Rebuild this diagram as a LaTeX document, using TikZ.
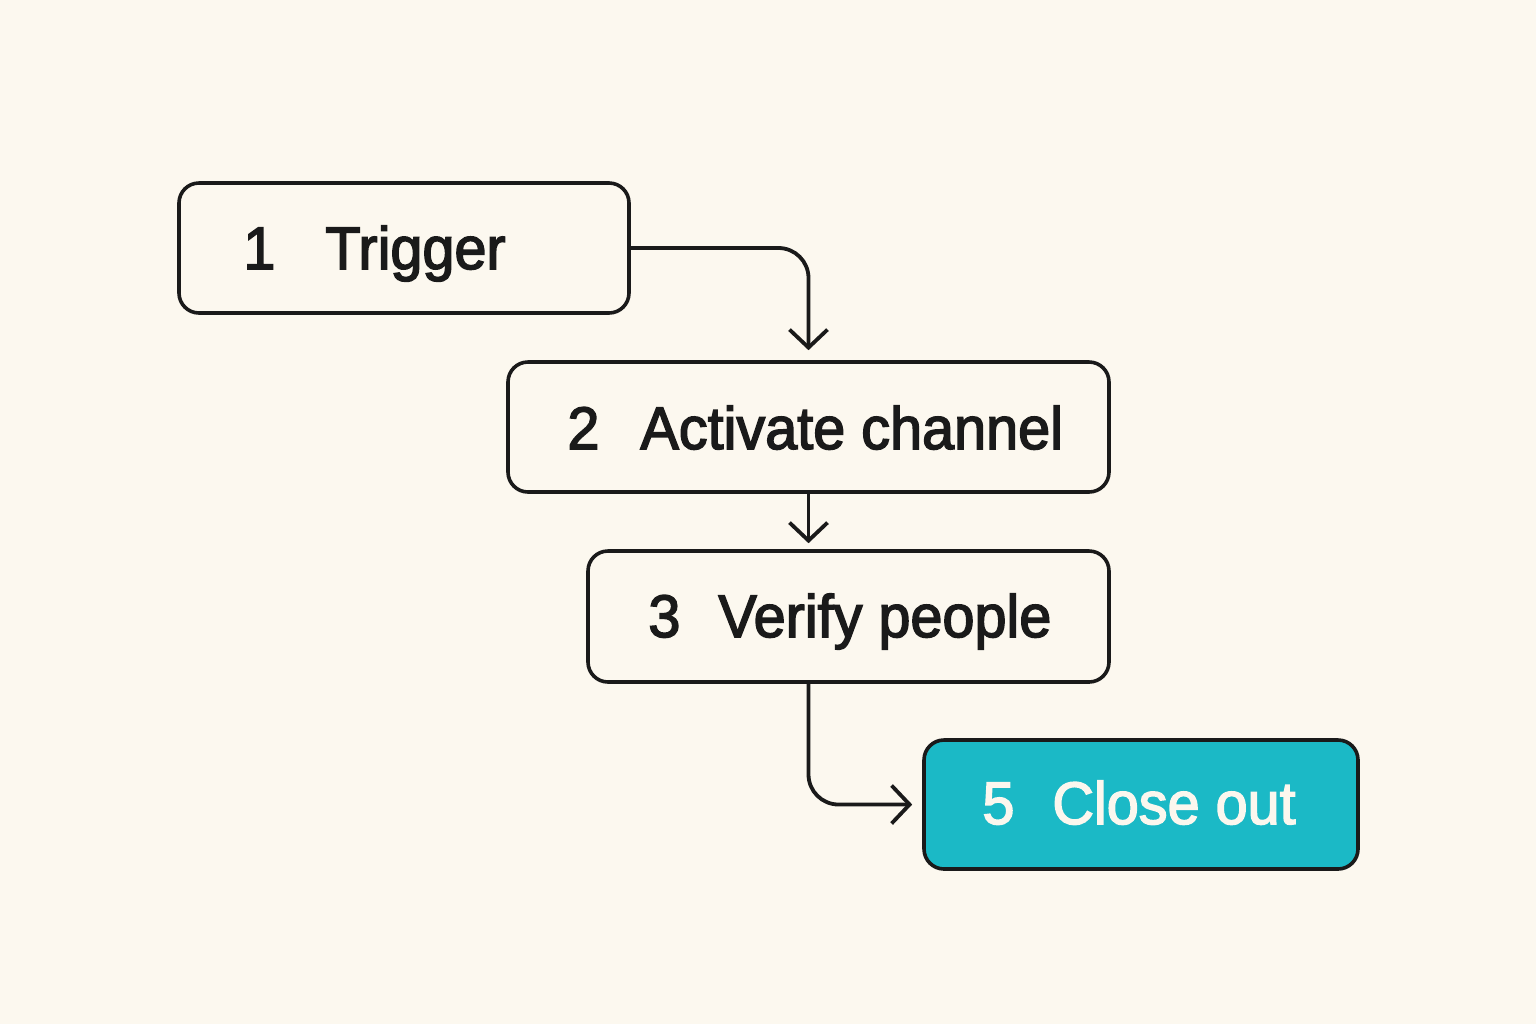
\documentclass[tikz,border=0pt]{standalone}
\usepackage{fontspec}
\setmainfont[FakeBold=2.5,FakeStretch=0.96]{Liberation Sans}
\usetikzlibrary{arrows.meta,calc}
\definecolor{bg}{HTML}{FCF8EF}
\definecolor{ink}{HTML}{1A1A1A}
\definecolor{teal}{HTML}{1BB9C6}
\definecolor{light}{HTML}{FBF7EE}
\begin{document}
\begin{tikzpicture}[x=0.5pt,y=-0.5pt,
  box/.style={draw=ink,line width=1.8pt,rounded corners=10pt,inner sep=0pt},
  lbl/.style={anchor=base west,inner sep=0pt,text=ink,font=\fontsize{30}{36}\selectfont},
  conn/.style={draw=ink,line width=1.9pt,rounded corners=15pt,-{Straight Barb[length=9pt,width=19pt,line width=1.9pt]}}]
\fill[bg] (0,0) rectangle (1536,1024);
\node[box,minimum width=225pt,minimum height=65pt] (b1) at (404,248) {};
\node[box,minimum width=300.5pt,minimum height=65pt] (b2) at (808.5,427) {};
\node[box,minimum width=260.5pt,minimum height=65.5pt] (b3) at (848.5,616.5) {};
\node[box,fill=teal,minimum width=217pt,minimum height=64.5pt] (b5) at (1141,804.5) {};
\node[lbl] (n1) at (243,269) {1};
\node[lbl] (t1) at (325,269) {Trigger};
\node[lbl] (n2) at (567,449) {2};
\node[lbl] (t2) at (640,449) {Activate channel};
\node[lbl] (n3) at (648,637) {3};
\node[lbl] (t3) at (718,637) {Verify people};
\node[lbl,text=light] (n5) at (982,824) {5};
\node[lbl,text=light] (t5) at (1052,824) {Close out};
\coordinate (e1) at ($(b2.north)+(0,-10)$);
\draw[conn] (b1.east) -| (e1);
\draw[conn,shorten >=3pt] (b2.south) -- (b3.north -| b2.south);
\draw[conn,shorten >=5pt] (b3.south -| b2.south) |- (b5.west);
\end{tikzpicture}
\end{document}
